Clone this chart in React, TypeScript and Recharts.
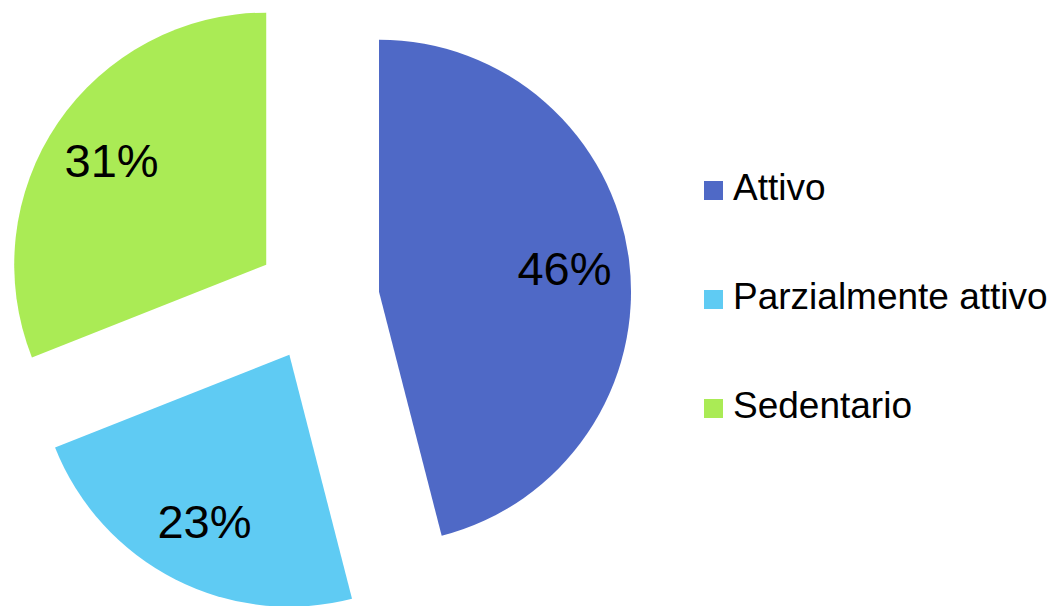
import React from 'react';
import { PieChart, Pie, Cell, Legend } from 'recharts';

const categories = ['Attivo', 'Parzialmente attivo', 'Sedentario'];
const values = [46, 23, 31];
const colors = ['#4F69C6', '#5FCBF3', '#AAEB55'];

const data = categories.map((name, i) => ({ name, value: values[i] }));

const W = 1053;
const H = 606;
const CX = 317.5;
const CY = 299.5;
const R = 252;
const EXPLODE = 62;
const LABEL_R = 187;
const START = 90;
const END = -270;
const RAD = Math.PI / 180;
const FONT = '"Liberation Sans", Arial, sans-serif';
const LEGEND_FONT = 37;
const LEGEND_STEP = 109.25;

const total = values.reduce((a, b) => a + b, 0);
const midAngles = values.map((v, i) => {
  const before = values.slice(0, i).reduce((a, b) => a + b, 0);
  return START + ((END - START) * (before + v / 2)) / total;
});

const makeLabel = (target: number) => (props: any) => {
  if (props.index !== target) return null;
  const { cx, cy, midAngle, value } = props;
  const x = cx + LABEL_R * Math.cos(-midAngle * RAD);
  const y = cy + LABEL_R * Math.sin(-midAngle * RAD);
  return (
    <text x={x} y={y + 17} textAnchor="middle" fontSize={47} fontFamily={FONT} fill="#000">
      {`${value}%`}
    </text>
  );
};

const baselineOffset = LEGEND_FONT * 0.8465;

const renderLegend = () => (
  <div style={{ fontFamily: FONT, position: 'relative', width: 345 }}>
    {categories.map((c, i) => (
      <div
        key={c}
        style={{
          position: 'relative',
          height: LEGEND_FONT,
          marginBottom: i < categories.length - 1 ? LEGEND_STEP - LEGEND_FONT : 0,
        }}
      >
        <span
          style={{
            position: 'absolute',
            left: 0,
            top: baselineOffset - 19,
            width: 19,
            height: 19,
            background: colors[i],
          }}
        />
        <span
          style={{
            position: 'absolute',
            left: 29,
            top: 0,
            fontSize: LEGEND_FONT,
            lineHeight: `${LEGEND_FONT}px`,
            whiteSpace: 'nowrap',
            color: '#000',
          }}
        >
          {c}
        </span>
      </div>
    ))}
  </div>
);

export default function App() {
  return (
    <div style={{ position: 'absolute', left: 0, top: 0, width: W, height: H, background: '#fff' }}>
      <PieChart width={W} height={H} margin={{ top: 0, right: 0, bottom: 0, left: 0 }}>
        {categories.map((cat, target) => (
          <Pie
            key={cat}
            data={data}
            dataKey="value"
            nameKey="name"
            cx={CX + EXPLODE * Math.cos(-midAngles[target] * RAD)}
            cy={CY + EXPLODE * Math.sin(-midAngles[target] * RAD)}
            innerRadius={0}
            outerRadius={R}
            startAngle={START}
            endAngle={END}
            stroke="none"
            labelLine={false}
            label={makeLabel(target)}
            legendType={target === 0 ? 'square' : 'none'}
            isAnimationActive={false}
          >
            {data.map((d, i) => (
              <Cell key={d.name} fill={i === target ? colors[i] : 'transparent'} stroke="none" />
            ))}
          </Pie>
        ))}
        <Legend
          layout="vertical"
          align="right"
          verticalAlign="top"
          content={renderLegend}
          wrapperStyle={{ left: 704, top: 200 - baselineOffset, right: 'auto', bottom: 'auto', width: 345 }}
        />
      </PieChart>
    </div>
  );
}
